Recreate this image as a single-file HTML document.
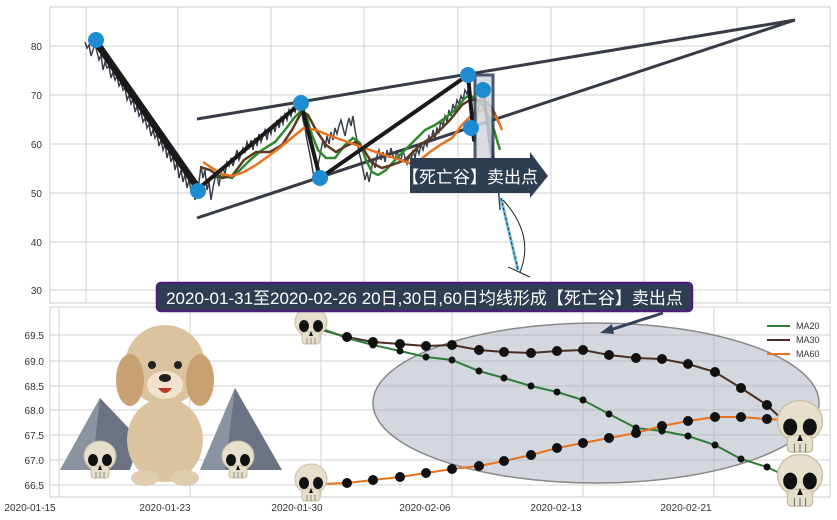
<!DOCTYPE html>
<html><head><meta charset="utf-8"><style>
body{margin:0;background:#fff;}
svg{display:block;font-family:"Liberation Sans","Noto Sans CJK SC",sans-serif;}
</style></head><body>
<svg width="837" height="520" viewBox="0 0 837 520" xmlns="http://www.w3.org/2000/svg">
<rect x="50" y="7" width="780" height="296" fill="#fff" stroke="#ccc"/>
<g stroke="#d0d0d0" stroke-width="1">
<line x1="86" y1="7" x2="86" y2="303"/><line x1="178" y1="7" x2="178" y2="303"/><line x1="271" y1="7" x2="271" y2="303"/><line x1="364" y1="7" x2="364" y2="303"/><line x1="458" y1="7" x2="458" y2="303"/><line x1="551" y1="7" x2="551" y2="303"/><line x1="644" y1="7" x2="644" y2="303"/><line x1="737" y1="7" x2="737" y2="303"/>
<line x1="50" y1="46" x2="830" y2="46"/><line x1="50" y1="95" x2="830" y2="95"/><line x1="50" y1="144" x2="830" y2="144"/><line x1="50" y1="193" x2="830" y2="193"/><line x1="50" y1="242" x2="830" y2="242"/><line x1="50" y1="290" x2="830" y2="290"/>
</g>
<g font-size="10" fill="#333" text-anchor="end">
<text x="42" y="50">80</text><text x="42" y="99">70</text><text x="42" y="148">60</text><text x="42" y="197">50</text><text x="42" y="246">40</text><text x="42" y="294">30</text>
</g>
<g stroke="#363b47" stroke-width="3" fill="none">
<line x1="197" y1="119" x2="795" y2="20"/><line x1="197" y1="218" x2="795" y2="20"/>
</g>
<polyline fill="none" stroke="#3a3f4c" stroke-width="1.5" points="85,42 87,48 89,45 91,56 93,50 95,44 97,52 99,60 101,55 103,70 105,62 107,68 109,66 111,78 113,72 115,80 117,76 119,86 121,82 123,90 125,88 127,100 129,95 131,104 133,99 135,112 137,106 139,116 141,112 143,122 145,118 147,128 149,124 151,136 153,130 155,138 157,134 159,146 161,140 163,150 165,144 167,158 169,150 171,162 173,156 175,170 177,162 179,178 181,170 183,182 185,174 187,188 189,180 191,190 193,184 195,200 197,192 199,182 201,166 203,178 205,170 207,190 209,182 211,200 213,188 215,178 217,176 219,186 221,172 223,168 225,174 227,162 229,166 231,158 233,166 235,158 237,150 239,160 241,154 243,148 245,152 247,142 249,148 251,140 253,150 255,138 257,146 259,134 261,142 263,136 265,130 267,140 269,128 271,134 273,124 275,132 277,120 279,128 281,118 283,124 285,114 287,120 289,110 291,116 293,108 295,112 297,104 299,110 301,106 303,120 305,128 307,140 309,150 311,160 313,172 315,180 317,170 319,160 321,150 323,140 325,148 327,136 329,144 331,132 333,140 335,128 337,134 339,126 341,120 343,128 345,136 347,126 349,118 351,126 353,116 355,130 357,140 359,152 361,160 363,170 365,180 367,172 369,182 371,172 373,160 375,168 377,156 379,150 381,160 383,152 385,162 387,150 389,158 391,148 393,156 395,160 397,150 399,158 401,160 403,150 405,158 407,164 409,156 411,160 413,150 415,158 417,148 419,154 421,144 423,150 425,142 427,146 429,136 431,142 433,130 435,138 437,128 439,132 441,120 443,126 445,116 447,122 449,110 451,116 453,104 455,110 457,100 459,104 461,96 463,100 465,90 467,94 469,86 471,100 473,130 475,140 477,118 479,104 481,96 483,92 485,100 487,112 489,124 491,136 493,150 495,166 497,182 499,196 500,210"/>
<polyline fill="none" stroke="#2e8b2e" stroke-width="2.5" points="218,178 225,176 232,178 240,170 250,160 262,150 275,142 285,130 294,118 300,112 306,115 312,135 318,150 326,158 335,158 345,145 353,138 360,143 366,160 372,172 378,175 386,170 395,160 405,150 415,140 425,130 435,125 445,118 455,110 465,98 470,95 476,100 482,105 488,115 494,130 500,150"/>
<polyline fill="none" stroke="#5b3a22" stroke-width="2.5" points="200,167 210,170 222,178 232,176 244,160 256,152 270,152 282,145 292,130 302,111 308,115 316,130 326,145 336,152 346,146 356,142 364,150 372,163 382,168 392,165 405,160 420,145 435,135 450,120 462,105 470,100 478,100 486,102 492,108 500,125"/>
<polyline fill="none" stroke="#e8731e" stroke-width="2.5" points="203,162 212,168 222,174 232,176 244,172 256,165 270,155 282,146 294,136 304,128 316,130 328,135 342,140 356,145 370,150 385,155 400,160 412,164 420,160 430,152 440,145 452,138 462,125 470,117 478,112 486,108 492,112 498,120 502,130"/>
<g stroke="#1a1a1a" fill="none" stroke-linecap="round">
<line x1="96" y1="42" x2="198" y2="188" stroke-width="7"/>
<polyline points="198,189 301,103 320,178 468,75 474,140" stroke-width="4"/>
<polyline points="483,90 492,160 496,185" stroke-width="3"/>
</g>
<rect x="475" y="75" width="18" height="110" fill="#d3d6dc" stroke="#2f3d52" stroke-width="3" opacity="0.85"/>
<g fill="#1f8bd0">
<circle cx="96" cy="40" r="8"/><circle cx="198" cy="191" r="8"/><circle cx="301" cy="103" r="8"/><circle cx="320" cy="178" r="8"/><circle cx="468" cy="75" r="8"/><circle cx="483" cy="90" r="8"/><circle cx="471" cy="128" r="8"/>
</g>
<line x1="501" y1="198" x2="518" y2="270" stroke="#6cc0e0" stroke-width="3"/>
<line x1="501" y1="198" x2="518" y2="270" stroke="#333" stroke-width="1" stroke-dasharray="3,2"/>
<path d="M503,200 Q535,235 520,272" fill="none" stroke="#222" stroke-width="1"/>
<line x1="508" y1="267" x2="530" y2="277" stroke="#222" stroke-width="1"/>
<path d="M410,158 L530,158 L530,152 L548,176 L530,198 L530,193 L410,193 Z" fill="#2f3d52"/>
<text x="470" y="183" font-size="17" fill="#fff" text-anchor="middle">【死亡谷】卖出点</text>

<rect x="50" y="307" width="780" height="190" fill="#fff" stroke="#ccc"/>
<g stroke="#d0d0d0">
<line x1="59" y1="307" x2="59" y2="497"/><line x1="190" y1="307" x2="190" y2="497"/><line x1="321" y1="307" x2="321" y2="497"/><line x1="452" y1="307" x2="452" y2="497"/><line x1="583" y1="307" x2="583" y2="497"/><line x1="714" y1="307" x2="714" y2="497"/>
<line x1="50" y1="335" x2="830" y2="335"/><line x1="50" y1="361" x2="830" y2="361"/><line x1="50" y1="386" x2="830" y2="386"/><line x1="50" y1="410" x2="830" y2="410"/><line x1="50" y1="435" x2="830" y2="435"/><line x1="50" y1="460" x2="830" y2="460"/><line x1="50" y1="485" x2="830" y2="485"/>
</g>
<g font-size="10" fill="#333" text-anchor="end">
<text x="44" y="339">69.5</text><text x="44" y="365">69.0</text><text x="44" y="390">68.5</text><text x="44" y="414">68.0</text><text x="44" y="439">67.5</text><text x="44" y="464">67.0</text><text x="44" y="489">66.5</text>
</g>
<g font-size="10" fill="#333" text-anchor="middle">
<text x="30" y="511">2020-01-15</text><text x="165" y="511">2020-01-23</text><text x="297" y="511">2020-01-30</text><text x="425" y="511">2020-02-06</text><text x="556" y="511">2020-02-13</text><text x="686" y="511">2020-02-21</text>
</g>
<ellipse cx="596" cy="403" rx="223" ry="80" fill="#a9afbd" fill-opacity="0.5" stroke="#888" stroke-width="1.5"/>
<polyline fill="none" stroke="#4a2e22" stroke-width="2" points="322,330 347,337 373,342 400,344 426,346 452,345 479,350 504,352 531,353 557,351 583,350 609,355 636,358 662,359 688,364 715,372 741,388 767,405 790,427"/>
<polyline fill="none" stroke="#2e7d3a" stroke-width="2" points="325,330 347,338 373,345 400,351 426,357 452,360 479,371 504,378 531,386 557,392 583,400 609,414 636,428 662,431 688,436 715,445 741,459 767,467 790,478"/>
<polyline fill="none" stroke="#e8731e" stroke-width="2" points="322,484 347,483 373,480 400,477 426,473 452,469 479,466 504,461 531,455 557,448 583,443 609,438 636,433 662,426 688,421 715,417 741,417 767,419 790,420"/>
<g fill="#111">
<circle cx="347" cy="337" r="5"/><circle cx="373" cy="342" r="5"/><circle cx="400" cy="344" r="5"/><circle cx="426" cy="346" r="5"/><circle cx="452" cy="345" r="5"/><circle cx="479" cy="350" r="5"/><circle cx="504" cy="352" r="5"/><circle cx="531" cy="353" r="5"/><circle cx="557" cy="351" r="5"/><circle cx="583" cy="350" r="5"/><circle cx="609" cy="355" r="5"/><circle cx="636" cy="358" r="5"/><circle cx="662" cy="359" r="5"/><circle cx="688" cy="364" r="5"/><circle cx="715" cy="372" r="5"/><circle cx="741" cy="388" r="5"/><circle cx="767" cy="405" r="5"/>
<circle cx="347" cy="338" r="3.5"/><circle cx="373" cy="345" r="3.5"/><circle cx="400" cy="351" r="3.5"/><circle cx="426" cy="357" r="3.5"/><circle cx="452" cy="360" r="3.5"/><circle cx="479" cy="371" r="3.5"/><circle cx="504" cy="378" r="3.5"/><circle cx="531" cy="386" r="3.5"/><circle cx="557" cy="392" r="3.5"/><circle cx="583" cy="400" r="3.5"/><circle cx="609" cy="414" r="3.5"/><circle cx="636" cy="428" r="3.5"/><circle cx="662" cy="431" r="3.5"/><circle cx="688" cy="436" r="3.5"/><circle cx="715" cy="445" r="3.5"/><circle cx="741" cy="459" r="3.5"/><circle cx="767" cy="467" r="3.5"/>
<circle cx="347" cy="483" r="5"/><circle cx="373" cy="480" r="5"/><circle cx="400" cy="477" r="5"/><circle cx="426" cy="473" r="5"/><circle cx="452" cy="469" r="5"/><circle cx="479" cy="466" r="5"/><circle cx="504" cy="461" r="5"/><circle cx="531" cy="455" r="5"/><circle cx="557" cy="448" r="5"/><circle cx="583" cy="443" r="5"/><circle cx="609" cy="438" r="5"/><circle cx="636" cy="433" r="5"/><circle cx="662" cy="426" r="5"/><circle cx="688" cy="421" r="5"/><circle cx="715" cy="417" r="5"/><circle cx="741" cy="417" r="5"/><circle cx="767" cy="419" r="5"/>
</g>
<g font-size="9" fill="#333">
<line x1="767" y1="326" x2="790" y2="326" stroke="#2e7d3a" stroke-width="2"/><text x="796" y="329">MA20</text>
<line x1="767" y1="340" x2="790" y2="340" stroke="#4a2e22" stroke-width="2"/><text x="796" y="343">MA30</text>
<line x1="767" y1="354" x2="790" y2="354" stroke="#e8731e" stroke-width="2"/><text x="796" y="357">MA60</text>
</g>
<line x1="663" y1="313" x2="610" y2="330" stroke="#34435a" stroke-width="3"/>
<path d="M600,333 L612,324 L614,334 Z" fill="#34435a"/>
<defs>
<g id="sk">
<ellipse cx="0" cy="-4" rx="16" ry="15" fill="#e6dfcc" stroke="#c9bfa6"/>
<rect x="-9" y="6" width="18" height="12" rx="3" fill="#e6dfcc" stroke="#c9bfa6"/>
<ellipse cx="-7" cy="0" rx="5" ry="6" fill="#111"/><ellipse cx="7" cy="0" rx="5" ry="6" fill="#111"/>
<path d="M0,5 L-2,10 L2,10 Z" fill="#111"/>
<g stroke="#777" stroke-width="0.8"><line x1="-4" y1="12" x2="-4" y2="18"/><line x1="0" y1="12" x2="0" y2="18"/><line x1="4" y1="12" x2="4" y2="18"/></g>
</g>
</defs>
<use href="#sk" x="311" y="326"/>
<use href="#sk" x="311" y="483"/>
<use href="#sk" transform="translate(800,427) scale(1.4)"/>
<use href="#sk" transform="translate(800,481) scale(1.4)"/>
<path d="M60,470 L100,398 L140,440 L130,470 Z" fill="#6a7283"/>
<path d="M200,470 L235,388 L282,470 Z" fill="#6a7283"/>
<path d="M60,470 L100,398 L92,470 Z" fill="#8b92a0"/>
<path d="M200,470 L235,388 L225,470 Z" fill="#8b92a0"/>
<ellipse cx="165" cy="440" rx="38" ry="42" fill="#dcc3a0"/>
<ellipse cx="165" cy="365" rx="40" ry="40" fill="#dcc3a0"/>
<ellipse cx="130" cy="380" rx="14" ry="26" fill="#c9a172"/>
<ellipse cx="200" cy="380" rx="14" ry="26" fill="#c9a172"/>
<ellipse cx="165" cy="385" rx="18" ry="14" fill="#f0e2cc"/>
<circle cx="152" cy="365" r="4" fill="#222"/><circle cx="178" cy="365" r="4" fill="#222"/>
<ellipse cx="165" cy="378" rx="6" ry="4" fill="#222"/>
<path d="M158,388 Q165,398 172,388 Z" fill="#c0392b"/>
<ellipse cx="145" cy="478" rx="14" ry="8" fill="#e0cdb0"/><ellipse cx="185" cy="478" rx="14" ry="8" fill="#e0cdb0"/>
<use href="#sk" x="100" y="460"/>
<use href="#sk" x="238" y="460"/>
<rect x="157" y="283" width="535" height="28" rx="4" fill="#2f3d52" stroke="#4a1f7a" stroke-width="2.5"/>
<text x="424.5" y="304" font-size="17" fill="#fff" text-anchor="middle">2020-01-31至2020-02-26 20日,30日,60日均线形成【死亡谷】卖出点</text>
</svg>
</body></html>
